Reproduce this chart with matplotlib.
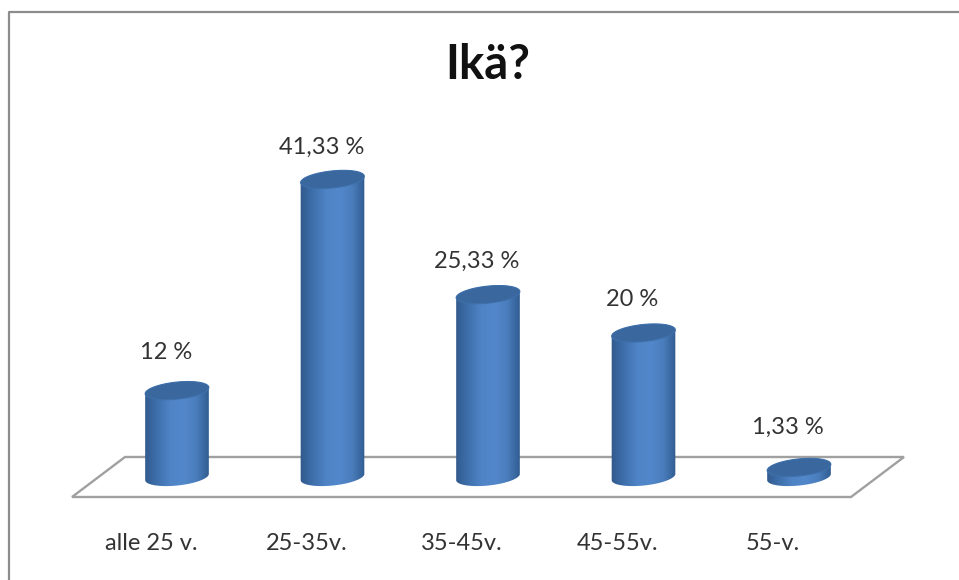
import numpy as np
import matplotlib
matplotlib.use('Agg')
import matplotlib.pyplot as plt
from matplotlib.colors import LinearSegmentedColormap
from matplotlib.patches import PathPatch, Polygon
from matplotlib.path import Path

# data
categories = ['alle 25 v.', '25-35v.', '35-45v.', '45-55v.', '55-v.']
values = [12, 41.33, 25.33, 20, 1.33]
value_labels = ['12 %', '41,33 %', '25,33 %', '20 %', '1,33 %']

W, H = 959, 580
X0, X_STEP = 177, 155.5     # pixel x of first bar, pixels between bars
Y0, Y_STEP = 477, 7.2       # pixel y of the zero line, pixels per percent
label_gap = [38, 32, 33, 33, 40]   # pixels between bar top and its label

plt.rcParams['font.family'] = ['Lato', 'DejaVu Sans']

fig = plt.figure(figsize=(W / 100, H / 100), dpi=100)
ax = fig.add_axes([0, 0, 1, 1])
ax.set_xlim(-X0 / X_STEP, (W - X0) / X_STEP)
ax.set_ylim((Y0 - H) / Y_STEP, Y0 / Y_STEP)
ax.axis('off')

body_cmap = LinearSegmentedColormap.from_list(
    'body', ['#31598c', '#3f70ad', '#4f84c6', '#5288cb', '#4a7dbc', '#2f5a8e'])


def ell(cx, cy, t, a=32, b=8.5, tilt=np.radians(6)):
    # tilted ellipse, offsets are in pixels, centre in data units
    dx = a * np.cos(t) * np.cos(tilt) - b * np.sin(t) * np.sin(tilt)
    dy = a * np.cos(t) * np.sin(tilt) + b * np.sin(t) * np.cos(tilt)
    return cx + dx / X_STEP, cy + dy / Y_STEP


def cylinder(i, v):
    xb, yb = ell(i, 0, np.linspace(np.pi, 2 * np.pi, 60))
    xt, yt = ell(i, v, np.linspace(0, np.pi, 30))
    body = PathPatch(Path(np.c_[np.r_[xb, xt], np.r_[yb, yt]]), fc='none', ec='none')
    ax.add_patch(body)
    grad = np.linspace(0, 1, 128).reshape(1, -1)
    im = ax.imshow(grad, cmap=body_cmap, aspect='auto', zorder=3,
                   extent=(i - 33 / X_STEP, i + 33 / X_STEP, -2, v + 2))
    im.set_clip_path(body)
    xc, yc = ell(i, v, np.linspace(0, 2 * np.pi, 90))
    ax.add_patch(Polygon(np.c_[xc, yc], closed=True, fc='#39679e', ec='#3f70aa', lw=0.8, zorder=4))


def to_x(p):
    return (p - X0) / X_STEP


def to_y(p):
    return (Y0 - p) / Y_STEP


# frame, only top and left edges show
ax.plot([to_x(9), to_x(9), to_x(959)], [to_y(580), to_y(12), to_y(12)],
        color='#8c8c8c', lw=1.6, zorder=0)

# floor
floor = np.c_[[to_x(p) for p in (72, 125, 904, 851)], [to_y(p) for p in (497, 457, 457, 497)]]
ax.add_patch(Polygon(floor, closed=True, fc='white', ec='#a0a0a0', lw=1.7, zorder=1))

for i, v in enumerate(values):
    cylinder(i, v)
    ax.text(i - 11 / X_STEP, v + label_gap[i] / Y_STEP, value_labels[i], ha='center', va='center',
            fontsize=17, color='#333333', zorder=5)
    ax.text(i - 26 / X_STEP, -66 / Y_STEP, categories[i], ha='center', va='center',
            fontsize=17, color='#333333', zorder=5)

ax.text(to_x(488), to_y(65), 'Ikä?', ha='center', va='center',
        fontsize=34, fontweight='bold', color='#111111', zorder=5)

fig.savefig('out.png', dpi=100)
